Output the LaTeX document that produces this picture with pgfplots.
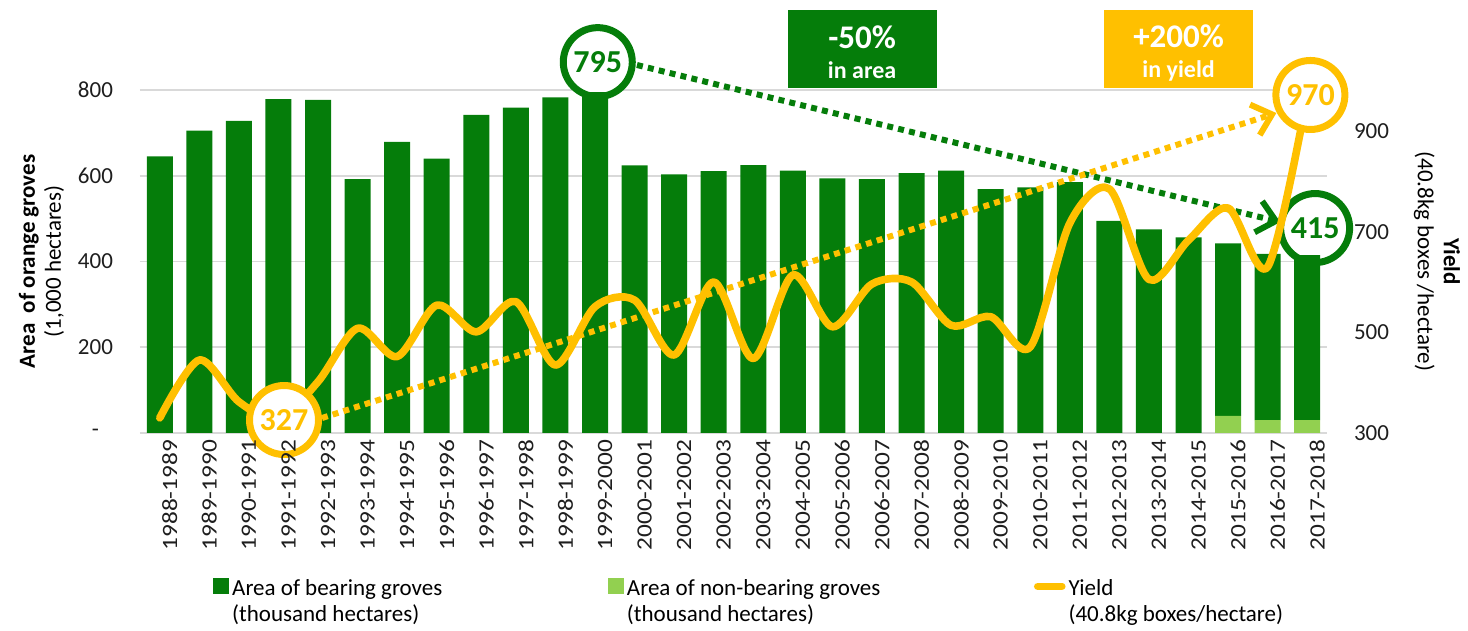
\documentclass[border=0pt]{standalone}
\usepackage{fontspec}
\setmainfont{Carlito}
\usepackage{graphicx}
\usepackage{pgfplots}
\pgfplotsset{compat=1.18}
\usetikzlibrary{arrows.meta}
\definecolor{dkgreen}{RGB}{5,125,10}
\definecolor{ltgreen}{RGB}{146,208,80}
\definecolor{gold}{RGB}{255,192,0}
\definecolor{gridgray}{RGB}{217,217,217}
\definecolor{txt}{RGB}{30,30,30}
\newcommand{\xl}[1]{\scalebox{1.1}[0.95]{#1}}
\begin{document}
\begin{tikzpicture}[font=\fontsize{11.5}{13}\selectfont]
\path[use as bounding box] (-70pt,-99pt) rectangle (664pt,216.5pt);
\begin{axis}[
  at={(0pt,0pt)}, anchor=south west,
  scale only axis, width=593.5pt, height=171.5pt,
  xmin=-0.5, xmax=29.5, ymin=0, ymax=800,
  ybar stacked, bar width=13pt,
  axis line style={draw=none},
  major tick length=0pt,
  ytick={0,200,400,600,800},
  yticklabels={{-\hspace*{7pt}},200,400,600,800},
  xtick=\empty,
  yticklabel style={xshift=-10pt, text=txt},
  ymajorgrids, grid style={gridgray, line width=0.8pt},
  /pgf/number format/assume math mode=true,
  ylabel={\textbf{Area\ \ of orange groves}\\(1,000 hectares)},
  every axis y label/.style={at={(axis description cs:-0.083,0.5)}, anchor=center, rotate=90, align=center, text=black},
  clip=false,
]
\addplot[fill=ltgreen, draw=none] coordinates {
(0,0) (1,0) (2,0) (3,0) (4,0) (5,0) (6,0) (7,0) (8,0) (9,0)
(10,0) (11,0) (12,0) (13,0) (14,0) (15,0) (16,0) (17,0) (18,0) (19,0)
(20,0) (21,0) (22,0) (23,0) (24,0) (25,0) (26,0) (27,40) (28,30) (29,30)};
\addplot[fill=dkgreen, draw=none] coordinates {
(0,645) (1,705) (2,728) (3,779) (4,777) (5,592) (6,679) (7,640) (8,742) (9,759)
(10,783) (11,795) (12,624) (13,603) (14,611) (15,625) (16,612) (17,594) (18,592) (19,606)
(20,612) (21,569) (22,573) (23,585) (24,495) (25,475) (26,456) (27,402) (28,388) (29,385)};
% annotations (area)
\draw[dkgreen, line width=3pt, dash pattern=on 3pt off 2.6pt, -{Straight Barb[length=9pt,width=16pt]}] (axis cs:12.06,858.3) -- (axis cs:28.32,492);
\node[circle, draw=dkgreen, line width=3.5pt, fill=white, minimum size=34.5pt, inner sep=0pt, text=dkgreen, font=\bfseries\fontsize{16}{18}\selectfont] at (axis cs:11.07,865) {795};
\node[circle, draw=dkgreen, line width=3.5pt, fill=white, minimum size=34.5pt, inner sep=0pt, text=dkgreen, font=\bfseries\fontsize{16}{18}\selectfont] at (axis cs:29.2,478) {415};
\node[fill=dkgreen, text=white, minimum width=74.5pt, minimum height=39pt, inner sep=0pt, align=center, font=\bfseries] at (axis cs:17.75,895.6)
  {{\fontsize{16.5}{16}\selectfont\rule{0pt}{15pt}-50\%}\\[3pt]{\fontsize{12}{16}\selectfont in area}};
\node[fill=gold, text=white, minimum width=74.5pt, minimum height=39pt, inner sep=0pt, align=center, font=\bfseries] at (axis cs:25.75,895.6)
  {{\fontsize{16.5}{16}\selectfont\rule{0pt}{15pt}+200\%}\\[3pt]{\fontsize{12}{16}\selectfont in yield}};
\end{axis}
\begin{axis}[
  at={(0pt,0pt)}, anchor=south west,
  scale only axis, width=593.5pt, height=171.5pt,
  xmin=-0.5, xmax=29.5, ymin=300, ymax=981.5,
  axis line style={draw=none},
  major tick length=0pt,
  xtick=\empty,
  ytick={300,500,700,900},
  yticklabel pos=right,
  yticklabel style={xshift=10pt, text=txt},
  /pgf/number format/assume math mode=true,
  ylabel={\textbf{Yield}\\(40.8kg boxes /hectare)},
  every axis y label/.style={at={(axis description cs:1.0927,0.5)}, anchor=center, rotate=-90, align=center, text=black},
  clip=false,
  legend columns=3,
  legend style={at={(axis description cs:0.0615,-0.414)}, anchor=north west, draw=none, fill=none, inner sep=0pt,
    /tikz/every odd column/.append style={column sep=-0.5pt}},
  legend cell align=left,
]
\addlegendimage{legend image code/.code={\fill[dkgreen] (0pt,-2.5pt) rectangle (7.5pt,5pt);}}
\addlegendentry{\parbox[t]{186pt}{Area of bearing groves\\(thousand hectares)}}
\addlegendimage{legend image code/.code={\fill[ltgreen] (0pt,-2.5pt) rectangle (7.5pt,5pt);}}
\addlegendentry{\parbox[t]{201.5pt}{Area of non-bearing groves\\(thousand hectares)}}
\addplot[gold, line width=3.8pt, smooth, line cap=round, line join=round,
  legend image code/.code={\draw[gold, line width=3pt, line cap=round] (5pt,1.25pt) -- (12pt,1.25pt); \path (0pt,1.25pt) -- (12pt,1.25pt);}] coordinates {
(0,330) (1,445) (2,362) (3,327) (4,402) (5,508) (6,452) (7,554) (8,501) (9,561)
(10,435) (11,551) (12,564) (13,455) (14,600) (15,448) (16,614) (17,511) (18,596) (19,600)
(20,514) (21,531) (22,471) (23,717) (24,785) (25,605) (26,683) (27,747) (28,630) (29,970)};
\addlegendentry{\parbox[t]{130pt}{Yield\\(40.8kg boxes/hectare)}}
% annotations (yield)
\draw[gold, line width=3pt, dash pattern=on 3pt off 2.6pt, -{Straight Barb[length=9pt,width=16pt]}] (axis cs:4.10,329.8) -- (axis cs:28.22,935.8);
\node[circle, draw=gold, line width=3.5pt, fill=white, minimum size=34.5pt, inner sep=0pt, text=gold, font=\bfseries\fontsize{16}{18}\selectfont] at (axis cs:3.14,325.8) {327};
\node[circle, draw=gold, line width=3.5pt, fill=white, minimum size=34.5pt, inner sep=0pt, text=gold, font=\bfseries\fontsize{16}{18}\selectfont] at (axis cs:29.08,971.6) {970};
\end{axis}
% third axis: category tick labels on top of annotations
\begin{axis}[
  at={(0pt,0pt)}, anchor=south west,
  scale only axis, width=593.5pt, height=171.5pt,
  xmin=-0.5, xmax=29.5, ymin=0, ymax=800,
  axis line style={draw=none},
  major tick length=0pt,
  ytick=\empty,
  xtick={0,...,29},
  xticklabels={\xl{1988-1989},\xl{1989-1990},\xl{1990-1991},\xl{1991-1992},\xl{1992-1993},\xl{1993-1994},\xl{1994-1995},\xl{1995-1996},\xl{1996-1997},\xl{1997-1998},\xl{1998-1999},\xl{1999-2000},\xl{2000-2001},\xl{2001-2002},\xl{2002-2003},\xl{2003-2004},\xl{2004-2005},\xl{2005-2006},\xl{2006-2007},\xl{2007-2008},\xl{2008-2009},\xl{2009-2010},\xl{2010-2011},\xl{2011-2012},\xl{2012-2013},\xl{2013-2014},\xl{2014-2015},\xl{2015-2016},\xl{2016-2017},\xl{2017-2018}},
  xticklabel style={rotate=90, anchor=east, yshift=-5pt, text=txt},
]
\end{axis}
\end{tikzpicture}
\end{document}
